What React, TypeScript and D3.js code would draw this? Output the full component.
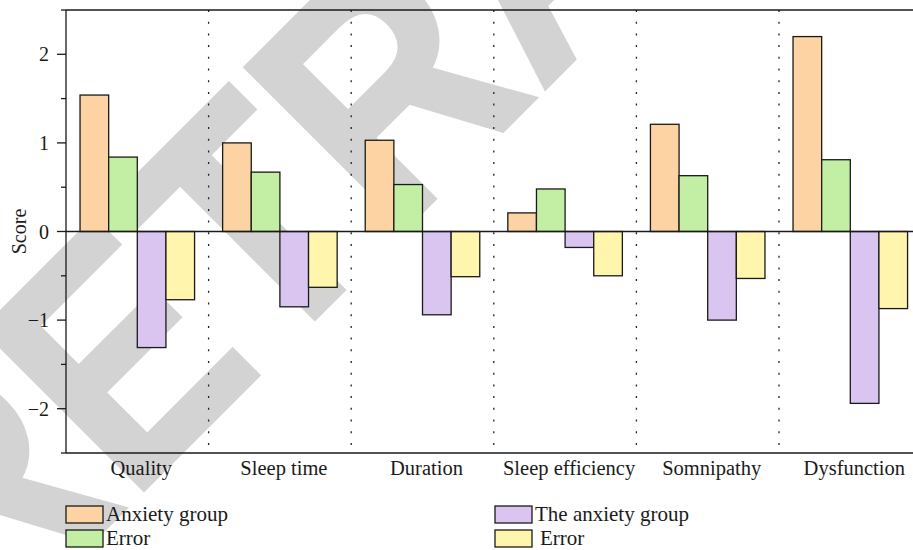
import React from "react";
import * as d3 from "d3";

const categories = ["Quality", "Sleep time", "Duration", "Sleep efficiency", "Somnipathy", "Dysfunction"];
const seriesNames = ["Anxiety group", "Error", "The anxiety group", " Error"];
const anxietyGroup = [1.54, 1.0, 1.03, 0.21, 1.21, 2.2];
const anxietyError = [0.84, 0.67, 0.53, 0.48, 0.63, 0.81];
const theAnxietyGroup = [-1.31, -0.85, -0.94, -0.18, -1.0, -1.94];
const theAnxietyError = [-0.77, -0.63, -0.51, -0.5, -0.53, -0.87];
const seriesColors = ["#fdd3a3", "#c2efa4", "#d9c5ef", "#fff5ad"];
const yMajorTicks = [-2, -1, 0, 1, 2];
const yMinorTicks = [-2.5, -1.5, -0.5, 0.5, 1.5, 2.5];

const W = 913;
const H = 550;
const left = 66;
const top = 10;
const bottom = 453;
const step = 142.6;

export default function App() {
  const seriesValues = [anxietyGroup, anxietyError, theAnxietyGroup, theAnxietyError];
  const y = d3.scaleLinear().domain([-2.5, 2.5]).range([bottom, top]);
  const x0 = d3.scaleBand<string>().domain(categories).range([left, left + step * categories.length]);
  const x1 = d3.scaleBand<number>().domain([0, 1, 2, 3]).range([0, x0.bandwidth()]).paddingOuter(0.49);
  const font = "'Liberation Serif', 'Times New Roman', serif";
  const right = left + step * categories.length;
  const fmt = (v: number) => (v < 0 ? "\u2212" + Math.abs(v) : String(v));

  return (
    <svg width={W} height={H} style={{ position: "absolute", left: 0, top: 0, background: "#fff" }}>
      <text
        transform={`translate(-18,652) rotate(-45) scale(1,1.14)`}
        textAnchor="start"
        fontFamily="'Liberation Sans', Arial, sans-serif"
        fontWeight="bold"
        fontSize={290}
        fill="#d3d3d3"
        stroke="#d3d3d3"
        strokeWidth={3}
      >
        RETRACTED
      </text>
      {/* separators */}
      {categories.slice(1).map((c) => (
        <line
          key={c}
          x1={x0(c)}
          x2={x0(c)}
          y1={top}
          y2={bottom}
          stroke="#222"
          strokeWidth={1.3}
          strokeDasharray="2 9.7"
        />
      ))}
      {/* bars */}
      {categories.map((c, i) =>
        seriesValues.map((vals, s) => {
          const v = vals[i];
          const yy = Math.min(y(v), y(0));
          const h = Math.abs(y(v) - y(0));
          return (
            <rect
              key={c + s}
              x={(x0(c) as number) + (x1(s) as number)}
              y={yy}
              width={x1.bandwidth()}
              height={h}
              fill={seriesColors[s]}
              stroke="#1a1a1a"
              strokeWidth={1.3}
            />
          );
        })
      )}
      {/* zero line, top and bottom */}
      <line x1={left} x2={right} y1={y(0)} y2={y(0)} stroke="#1a1a1a" strokeWidth={1.3} />
      <line x1={left} x2={right} y1={top} y2={top} stroke="#1a1a1a" strokeWidth={1.3} />
      <line x1={left} x2={right} y1={bottom} y2={bottom} stroke="#1a1a1a" strokeWidth={1.3} />
      {/* y axis */}
      <line x1={left} x2={left} y1={top} y2={bottom} stroke="#1a1a1a" strokeWidth={1.3} />
      {yMajorTicks.map((t) => (
        <g key={"M" + t}>
          <line x1={left - 9} x2={left} y1={y(t)} y2={y(t)} stroke="#1a1a1a" strokeWidth={1.3} />
          <text
            x={left - 17}
            y={y(t)}
            dy="0.35em"
            textAnchor="end"
            fontFamily={font}
            fontSize={20}
            fill="#1a1a1a"
          >
            {fmt(t)}
          </text>
        </g>
      ))}
      {yMinorTicks.map((t) => (
        <line key={"m" + t} x1={left - 5} x2={left} y1={y(t)} y2={y(t)} stroke="#1a1a1a" strokeWidth={1.3} />
      ))}
      <text
        transform={`translate(26,${y(0)}) rotate(-90)`}
        textAnchor="middle"
        fontFamily={font}
        fontSize={20}
        fill="#1a1a1a"
      >
        Score
      </text>
      {/* x labels */}
      {categories.map((c) => (
        <text
          key={"l" + c}
          x={(x0(c) as number) + x0.bandwidth() / 2 + 4}
          y={475}
          textAnchor="middle"
          fontFamily={font}
          fontSize={20.5}
          fill="#1a1a1a"
        >
          {c}
        </text>
      ))}
      {/* legend */}
      {seriesNames.map((n, s) => {
        const col = s < 2 ? 0 : 1;
        const row = s % 2;
        const lx = col === 0 ? 66 : 495;
        const ly = 506 + row * 24;
        return (
          <g key={"lg" + s}>
            <rect x={lx} y={ly} width={37} height={17} fill={seriesColors[s]} stroke="#1a1a1a" strokeWidth={1.3} />
            <text
              x={lx + 40 + (s === 3 ? 5 : 0)}
              y={ly + 15}
              fontFamily={font}
              fontSize={21}
              fill="#1a1a1a"
            >
              {n.trim()}
            </text>
          </g>
        );
      })}
    </svg>
  );
}
